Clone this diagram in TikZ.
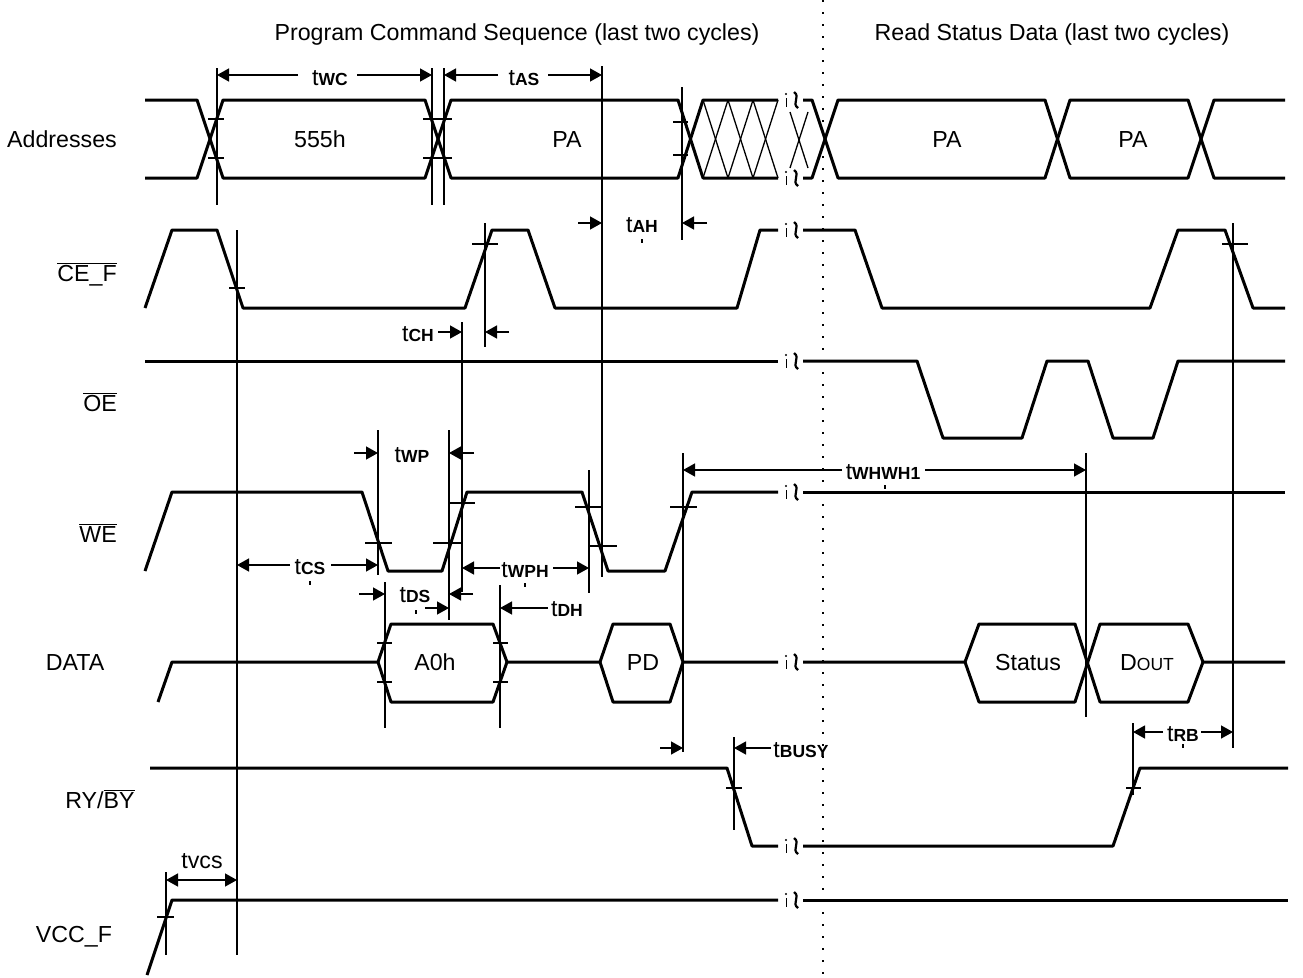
\documentclass[tikz,border=0pt]{standalone}
\usepackage{fontspec}
\setmainfont{Liberation Sans}
\usetikzlibrary{arrows.meta}
\newcommand\tlab[1]{t{\fontsize{17.5}{20}\selectfont\bfseries #1}}
\begin{document}
\begin{tikzpicture}[x=1pt,y=-1pt,
  sig/.style={line width=3pt,line join=round},
  fine/.style={line width=1.4pt},
  hatch/.style={line width=1.3pt},
  dimr/.style={fine,-{Triangle[length=12pt,width=13pt]}},
  dimb/.style={fine,{Triangle[length=12pt,width=13pt]}-{Triangle[length=12pt,width=13pt]}},
  lab/.style={font=\fontsize{23.2}{27}\selectfont,inner sep=0pt},
  ]
\useasboundingbox (0,0) rectangle (1303,977);
\fill[white] (0,0) rectangle (1303,977);

% titles
\node[lab,anchor=base] (title1) at (517,40) {Program Command Sequence (last two cycles)};
\node[lab,anchor=base] (title2) at (1052,40) {Read Status Data (last two cycles)};

% dotted separator
\draw[line width=2.4pt,dash pattern=on 2.4pt off 9.6pt] (823,0) -- (823,977);

% signal names
\node[lab,anchor=base] (nAddr) at (62,147) {Addresses};
\node[lab,anchor=base east] (nCE) at (117,281) {$\overline{\hbox{CE\_F}}$};
\node[lab,anchor=base east] (nOE) at (117,411) {$\overline{\hbox{OE}}$};
\node[lab,anchor=base east] (nWE) at (117,542) {$\overline{\hbox{WE}}$};
\node[lab,anchor=base] (nDATA) at (75,670) {DATA};
\node[lab,anchor=base] (nRY) at (100,808) {RY/$\overline{\hbox{BY}}$};
\node[lab,anchor=base] (nVCC) at (74,942) {VCC\_F};

% ---------------- Addresses
\draw[sig] (145,100)--(197,100)--(223,178)--(425,178)--(451,100)--(678,100)--(703,178)--(778,178);
\draw[sig] (145,178)--(197,178)--(223,100)--(425,100)--(451,178)--(678,178)--(703,100)--(778,100);
\foreach \i in {0,1,2}{
  \draw[hatch] (703+25*\i,100)--(728+25*\i,178);
  \draw[hatch] (703+25*\i,178)--(728+25*\i,100);
}
\draw[hatch] (790,112)--(808,168);
\draw[hatch] (790,168)--(808,112);
\draw[sig] (803,100)--(812,100)--(838,178)--(1045,178)--(1070,100)--(1188,100)--(1214,178)--(1285,178);
\draw[sig] (803,178)--(812,178)--(838,100)--(1045,100)--(1070,178)--(1188,178)--(1214,100)--(1285,100);
\node[lab,anchor=base] (v555) at (320,147) {555h};
\node[lab,anchor=base] (vPA1) at (567,147) {PA};
\node[lab,anchor=base] (vPA2) at (947,147) {PA};
\node[lab,anchor=base] (vPA3) at (1133,147) {PA};
% ticks
\draw[fine] (208,119)--(224,119) (208,158)--(224,158);
\draw[fine] (423,119)--(452,119) (423,158)--(452,158);
\draw[fine] (673,122)--(688,122) (673,155)--(688,155);

% ---------------- CE_F
\draw[sig] (145,308)--(172,230)--(217,230)--(243,308)--(465,308)--(492,230)--(528,230)--(555,308)--(737,308)--(760,230)--(778,230);
\draw[sig] (803,230)--(855,230)--(882,308)--(1150,308)--(1178,230)--(1225,230)--(1253,308)--(1285,308);
\draw[fine] (229,288)--(245,288);
\draw[fine] (472,244)--(498,244);
\draw[fine] (1222,244)--(1248,244);

% ---------------- OE
\draw[sig] (145,361)--(778,361);
\draw[sig] (803,361)--(917,361)--(943,438)--(1022,438)--(1047,361)--(1088,361)--(1113,438)--(1153,438)--(1178,361)--(1285,361);

% ---------------- WE
\draw[sig] (145,571)--(172,492)--(362,492)--(388,571)--(442,571)--(467,492)--(582,492)--(608,571)--(665,571)--(692,492)--(778,492);
\draw[sig] (803,492)--(1285,492);
\draw[fine] (365,543)--(392,543);
\draw[fine] (433,543)--(462,543) (450,503)--(475,503);
\draw[fine] (575,507)--(602,507) (590,546)--(617,546);
\draw[fine] (670,507)--(697,507);

% ---------------- DATA
\draw[sig] (158,702)--(172,662)--(378,662)--(391,624)--(493,624)--(507,662)--(600,662)--(613,624)--(670,624)--(683,662)--(778,662);
\draw[sig] (378,662)--(391,702)--(493,702)--(507,662);
\draw[sig] (600,662)--(613,702)--(670,702)--(683,662);
\draw[sig] (803,662)--(965,662)--(979,624)--(1075,624)--(1100,702)--(1188,702)--(1203,662)--(1285,662);
\draw[sig] (965,662)--(979,702)--(1075,702)--(1100,624)--(1188,624)--(1203,662);
\draw[fine] (377,643)--(392,643) (377,682)--(392,682) (493,643)--(508,643) (493,682)--(508,682);
\node[lab,anchor=base] (vA0) at (435,670) {A0h};
\node[lab,anchor=base] (vPD) at (643,670) {PD};
\node[lab,anchor=base] (vSt) at (1028,670) {Status};
\node[lab,anchor=base] (vDo) at (1147,670) {D{\fontsize{17.5}{20}\selectfont OUT}};

% ---------------- RY/BY
\draw[sig] (150,768)--(727,768)--(752,846)--(778,846);
\draw[sig] (803,846)--(1113,846)--(1140,768)--(1288,768);
\draw[fine] (726,788)--(742,788);
\draw[fine] (1126,788)--(1141,788);

% ---------------- VCC_F
\draw[sig] (147,975)--(172,900)--(778,900);
\draw[sig] (803,900)--(1288,900);
\draw[fine] (157,917)--(174,917);

% break marks
\foreach \yy in {100,178,230,361,492,662,846,900}{
  \fill (786,\yy-6) circle (1.1pt);
  \draw[line width=1pt] (786,\yy-2)--(786,\yy+7);
  \draw[line width=2.2pt] (794,\yy-8) .. controls (801,\yy-3) and (791,\yy+3) .. (798,\yy+8);
}

% ---------------- reference (vertical) lines
\draw[fine] (217,68)--(217,205);
\draw[fine] (432,68)--(432,205);
\draw[fine] (444,68)--(444,205);
\draw[fine] (602,66)--(602,577);
\draw[fine] (682,87)--(682,240);
\draw[fine] (237,230)--(237,955);
\draw[fine] (485,223)--(485,347);
\draw[fine] (1233,223)--(1233,748);
\draw[fine] (462,322)--(462,592);
\draw[fine] (378,430)--(378,575);
\draw[fine] (449,430)--(449,620);
\draw[fine] (589,470)--(589,593);
\draw[fine] (683,453)--(683,752);
\draw[fine] (385,582)--(385,728);
\draw[fine] (500,585)--(500,728);
\draw[fine] (1086,453)--(1086,717);
\draw[fine] (734,737)--(734,830);
\draw[fine] (1133,723)--(1133,795);
\draw[fine] (166,872)--(166,955);

% ---------------- timing labels and arrows
% tWC
\coordinate (wcL) at (217,75); \coordinate (wcR) at (432,75);
\node[lab,anchor=base] (tWC) at (330,85) {\tlab{WC}};
\draw[dimr] (298,75) -- (wcL);
\draw[dimr] (357,75) -- (wcR);
% tAS
\coordinate (asL) at (444,75); \coordinate (asR) at (602,75);
\node[lab,anchor=base] (tAS) at (524,85) {\tlab{AS}};
\draw[dimr] (498,75) -- (asL);
\draw[dimr] (548,75) -- (asR);
% tAH
\coordinate (ahL) at (602,223); \coordinate (ahR) at (682,223);
\node[lab,anchor=base] (tAH) at (642,232) {\tlab{AH}};
\draw[dimr] (578,223) -- (ahL);
\draw[dimr] (707,223) -- (ahR);
% tCH
\coordinate (chL) at (462,332); \coordinate (chR) at (485,332);
\node[lab,anchor=base] (tCH) at (418,341) {\tlab{CH}};
\draw[dimr] (438,332) -- (chL);
\draw[dimr] (509,332) -- (chR);
% tWP
\coordinate (wpL) at (378,453); \coordinate (wpR) at (449,453);
\node[lab,anchor=base] (tWP) at (412,462) {\tlab{WP}};
\draw[dimr] (354,453) -- (wpL);
\draw[dimr] (474,453) -- (wpR);
% tWHWH1
\coordinate (whL) at (683,470); \coordinate (whR) at (1086,470);
\node[lab,anchor=base] (tWH) at (883,479) {\tlab{WHWH1}};
\draw[dimr] (842,470) -- (whL);
\draw[dimr] (925,470) -- (whR);
% tCS
\coordinate (csL) at (237,565); \coordinate (csR) at (378,565);
\node[lab,anchor=base] (tCS) at (310,574) {\tlab{CS}};
\draw[dimr] (290,565) -- (csL);
\draw[dimr] (331,565) -- (csR);
% tWPH
\coordinate (wphL) at (462,568); \coordinate (wphR) at (589,568);
\node[lab,anchor=base] (tWPH) at (525,577) {\tlab{WPH}};
\draw[dimr] (500,568) -- (wphL);
\draw[dimr] (553,568) -- (wphR);
% tDS
\coordinate (dsL) at (385,594); \coordinate (dsR) at (449,594);
\node[lab,anchor=base] (tDS) at (415,602) {\tlab{DS}};
\draw[dimr] (359,594) -- (dsL);
\draw[dimr] (473,594) -- (dsR);
% tDH
\coordinate (dhL) at (449,608); \coordinate (dhR) at (500,608);
\node[lab,anchor=base] (tDH) at (567,616) {\tlab{DH}};
\draw[dimr] (425,608) -- (dhL);
\draw[dimr] (548,608) -- (dhR);
% tBUSY
\coordinate (byL) at (683,748); \coordinate (byR) at (734,748);
\node[lab,anchor=base] (tBY) at (801,757) {\tlab{BUSY}};
\draw[dimr] (660,748) -- (byL);
\draw[dimr] (771,748) -- (byR);
% tRB
\coordinate (rbL) at (1133,732); \coordinate (rbR) at (1233,732);
\node[lab,anchor=base] (tRB) at (1183,741) {\tlab{RB}};
\draw[dimr] (1163,732) -- (rbL);
\draw[dimr] (1201,732) -- (rbR);
% tVCS
\coordinate (vcL) at (166,880); \coordinate (vcR) at (237,880);
\node[lab,anchor=base] (tVCS) at (202,868) {tvcs};
\draw[dimb] (vcL) -- (vcR);

% small marks under labels
\foreach \mx/\my in {642/241, 310/583, 525/585, 416/612, 885/487, 1183/746}{
  \draw[line width=1.4pt] (\mx,\my-2)--(\mx,\my+2);
}
\end{tikzpicture}
\end{document}
